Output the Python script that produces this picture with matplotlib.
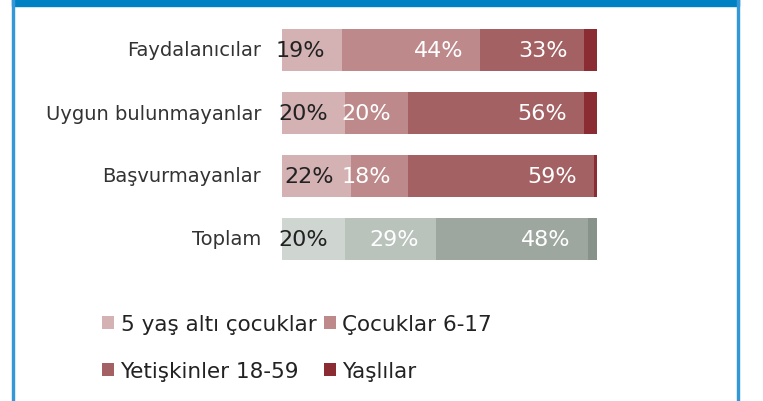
import numpy as np
import matplotlib
matplotlib.use("Agg")
import matplotlib.pyplot as plt
from matplotlib.patches import Patch, Rectangle

# data
categories = ['Faydalanıcılar', 'Uygun bulunmayanlar', 'Başvurmayanlar', 'Toplam']
under5 = [19, 20, 22, 20]
children = [44, 20, 18, 29]
adults = [33, 56, 59, 48]
elderly = [4, 4, 1, 3]
series_names = ['5 yaş altı çocuklar', 'Çocuklar 6-17', 'Yetişkinler 18-59', 'Yaşlılar']

red_colors = ['#d4b1b3', '#bd898b', '#a36163', '#8b2c33']
grey_colors = ['#cfd5d1', '#b9c2bb', '#9da79f', '#87938a']

W, H = 763, 402
fig = plt.figure(figsize=(W / 100, H / 100), dpi=100)

# blue frame
blue = '#0081c3'
fig.patches.append(Rectangle((12 / W, 1 - 7 / H), 727 / W, 7 / H, transform=fig.transFigure,
                             color=blue, zorder=0))
fig.patches.append(Rectangle((12 / W, 0), 2 / W, 1, transform=fig.transFigure, color='#3498d8', zorder=0))
fig.patches.append(Rectangle((737 / W, 0), 2 / W, 1, transform=fig.transFigure, color='#3498d8', zorder=0))

ax = fig.add_axes([282 / W, 1 - 271.5 / H, 315 / W, 252 / H])
ax.set_xlim(0, 100)
ax.set_ylim(3.5, -0.5)
ax.axis('off')

series = [under5, children, adults, elderly]
y = np.arange(len(categories))
left = np.zeros(len(categories))
for i, vals in enumerate(series):
    vals = np.array(vals, dtype=float)
    cols = [red_colors[i]] * 3 + [grey_colors[i]]
    ax.barh(y, vals, left=left, height=0.667, color=cols, edgecolor='none')
    if i < 3:
        for j in range(len(categories)):
            ax.annotate(f'{int(vals[j])}%', xy=(left[j] + vals[j], y[j]), xytext=(-12.3, 0),
                        textcoords='offset points', ha='right', va='center',
                        fontsize=16, color='#222222' if i == 0 else 'white')
    left += vals

for j, cat in enumerate(categories):
    ax.annotate(cat, xy=(0, y[j]), xytext=(-15, 0), textcoords='offset points',
                ha='right', va='center', fontsize=14, color='#333333')

# legend filled row by row like the original
order = [0, 2, 1, 3]
handles = [Patch(facecolor=red_colors[k], edgecolor='none') for k in order]
labels = [series_names[k] for k in order]
fig.legend(handles, labels, ncol=2, loc='upper left',
           bbox_to_anchor=(102 / W, 1 - 315 / H), frameon=False, fontsize=15.5,
           borderpad=0, borderaxespad=0,
           handlelength=0.56, handleheight=0.56, handletextpad=0.3,
           columnspacing=0.35, labelspacing=1.25, labelcolor='#222222')

fig.savefig('out.png', dpi=100, facecolor='white')
